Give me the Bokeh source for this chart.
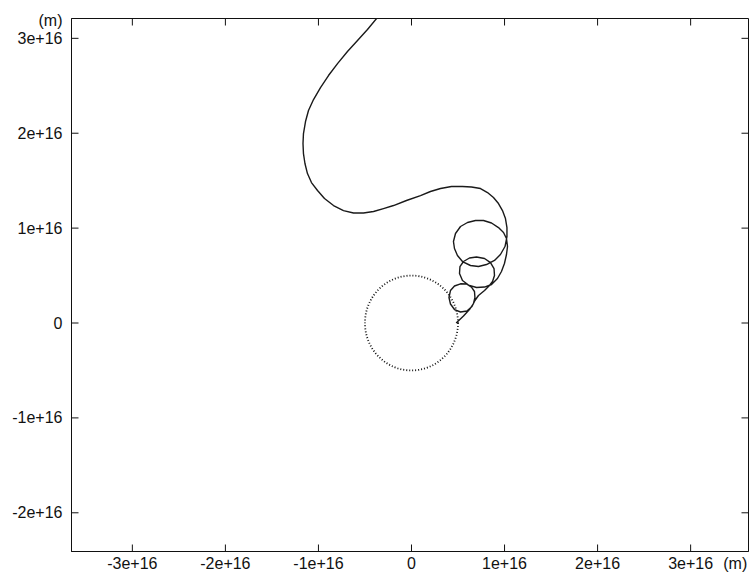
from bokeh.plotting import figure
from bokeh.models import FixedTicker, Range1d, ColumnDataSource
from bokeh.embed import file_html
from bokeh.resources import INLINE

# ---- data (positions in units of 1e16 m) ----
x_ticks = [-3e16, -2e16, -1e16, 0, 1e16, 2e16, 3e16]
x_tick_labels = ["-3e+16", "-2e+16", "-1e+16", "0", "1e+16", "2e+16", "3e+16"]
y_ticks = [-2e16, -1e16, 0, 1e16, 2e16, 3e16]
y_tick_labels = ["-2e+16", "-1e+16", "0", "1e+16", "2e+16", "3e+16"]

UNIT = 1e16

traj_x = [-0.322, -0.473, -0.580, -0.688, -0.795, -0.892, -0.978, -1.053, -1.107, -1.139,
          -1.161, -1.166, -1.161, -1.145, -1.118, -1.075, -1.010, -0.935, -0.838, -0.731,
          -0.623, -0.516, -0.408, -0.301, -0.193, -0.054, 0.097, 0.204, 0.312, 0.430,
          0.548, 0.645, 0.742, 0.817, 0.881, 0.935, 0.978, 1.010, 1.026, 1.026,
          1.005, 0.956, 0.892, 0.806, 0.720, 0.634, 0.548, 0.494, 0.462, 0.451,
          0.473, 0.527, 0.602, 0.688, 0.774, 0.860, 0.935, 0.989, 1.021, 1.032,
          1.021, 0.999, 0.967, 0.924, 0.860, 0.785, 0.699, 0.613, 0.548, 0.516,
          0.521, 0.559, 0.623, 0.699, 0.785, 0.849, 0.887, 0.892, 0.871, 0.838,
          0.785, 0.720, 0.682, 0.650, 0.596, 0.527, 0.462, 0.419, 0.403, 0.419,
          0.462, 0.527, 0.591, 0.645, 0.677, 0.682, 0.666, 0.623, 0.559, 0.480]
traj_y = [3.272, 3.093, 2.977, 2.861, 2.734, 2.608, 2.481, 2.355, 2.239, 2.123,
          1.997, 1.891, 1.786, 1.681, 1.575, 1.480, 1.396, 1.312, 1.238, 1.185,
          1.159, 1.159, 1.175, 1.206, 1.238, 1.291, 1.343, 1.386, 1.417, 1.438,
          1.438, 1.433, 1.417, 1.375, 1.322, 1.259, 1.185, 1.101, 1.006, 0.911,
          0.806, 0.722, 0.659, 0.616, 0.595, 0.606, 0.648, 0.711, 0.785, 0.859,
          0.943, 1.017, 1.059, 1.080, 1.080, 1.054, 1.006, 0.954, 0.890, 0.806,
          0.722, 0.627, 0.543, 0.469, 0.406, 0.379, 0.374, 0.400, 0.448, 0.522,
          0.595, 0.648, 0.685, 0.695, 0.680, 0.637, 0.574, 0.501, 0.437, 0.395,
          0.342, 0.290, 0.237, 0.174, 0.126, 0.116, 0.142, 0.200, 0.269, 0.342,
          0.390, 0.413, 0.411, 0.379, 0.332, 0.269, 0.205, 0.142, 0.074, 0.000]

circle_x = [0.0]
circle_y = [0.0]
circle_r = [0.5]

unit_label = "(m)"
x_unit_at = 3.48e16   # where the x unit sits on the tick-label row
y_unit_at = 3.19e16   # where the y unit sits in the tick-label column

W, H = 751, 579
X0, X1 = -3.654e16, 3.622e16
Y0, Y1 = -2.408e16, 3.209e16
INK = "#111111"
TICK_LEN = 7

# ---- figure ----
p = figure(width=W, height=H,
           x_range=Range1d(X0, X1), y_range=Range1d(Y0, Y1),
           output_backend="svg", toolbar_location=None,
           min_border_left=71, min_border_right=3,
           min_border_top=18, min_border_bottom=28)
p.grid.visible = False
p.background_fill_color = "white"
p.border_fill_color = "white"
p.outline_line_color = INK
p.outline_line_width = 1

FONT = "Liberation Sans"

def style_axis(ax, ticks, labels, standoff):
    ax.ticker = FixedTicker(ticks=ticks)
    ax.major_label_overrides = {t: l for t, l in zip(ticks, labels)}
    ax.major_tick_in = 0
    ax.major_tick_out = 0
    ax.minor_tick_in = 0
    ax.minor_tick_out = 0
    ax.axis_line_color = INK
    ax.major_label_text_font = FONT
    ax.major_label_text_color = INK
    ax.major_label_standoff = standoff
    ax.major_label_text_font_size = "16px"

style_axis(p.xaxis[0], x_ticks + [x_unit_at], x_tick_labels + [unit_label], 3)
style_axis(p.yaxis[0], y_ticks + [y_unit_at], y_tick_labels + [unit_label], 9)

# ---- inward tick marks on all four sides ----
p.ray(x=x_ticks, y=[Y0] * len(x_ticks), length=TICK_LEN, length_units="screen",
      angle=90, angle_units="deg", line_color=INK, line_width=1)
p.ray(x=x_ticks, y=[Y1] * len(x_ticks), length=TICK_LEN, length_units="screen",
      angle=-90, angle_units="deg", line_color=INK, line_width=1)
p.ray(x=[X0] * len(y_ticks), y=y_ticks, length=TICK_LEN, length_units="screen",
      angle=0, angle_units="deg", line_color=INK, line_width=1)
p.ray(x=[X1] * len(y_ticks), y=y_ticks, length=TICK_LEN, length_units="screen",
      angle=180, angle_units="deg", line_color=INK, line_width=1)

# ---- glyphs ----
src = ColumnDataSource(dict(x=[v * UNIT for v in traj_x], y=[v * UNIT for v in traj_y]))
p.line("x", "y", source=src, line_color="#1a1a1a", line_width=1.4, line_join="round")

csrc = ColumnDataSource(dict(x=[v * UNIT for v in circle_x], y=[v * UNIT for v in circle_y],
                             d=[2 * r * UNIT for r in circle_r]))
p.ellipse(x="x", y="y", width="d", height="d", source=csrc, fill_color=None,
          line_color=INK, line_width=1.8, line_dash="1 2")

open("out.html", "w").write(file_html(p, INLINE))
